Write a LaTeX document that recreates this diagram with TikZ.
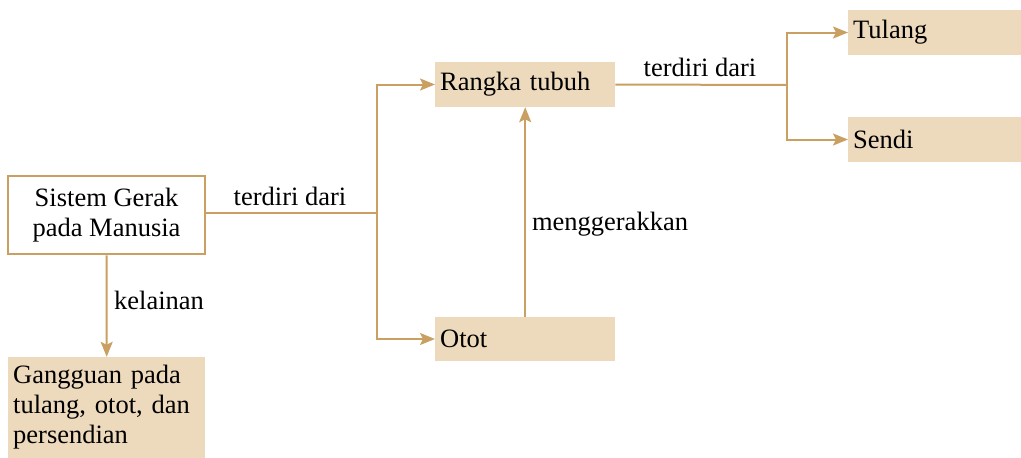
\documentclass[tikz,border=0pt]{standalone}
\usepackage{fontspec}
\setmainfont{Liberation Serif}
\usetikzlibrary{arrows.meta}
\definecolor{tan}{HTML}{C9A061}
\definecolor{sand}{HTML}{EDD9BC}
\tikzset{
  every node/.style={font=\fontsize{26.5}{30}\selectfont, text=black},
  outlinebox/.style={draw=tan, line width=2.5pt, fill=white, align=center, minimum width=197pt, minimum height=78pt, inner sep=0pt},
  sandbox/.style={fill=sand, align=left, inner sep=5pt, anchor=west},
  link/.style={draw=tan, line width=2pt},
  arrowlink/.style={link, -{Stealth[length=15pt, width=12pt, inset=3pt]}},
  lbl/.style={inner sep=0pt}
}
\begin{document}
\begin{tikzpicture}[x=1pt, y=-1pt]
\useasboundingbox (0,0) rectangle (1021,458);

% boxes
\node[outlinebox] (sis) at (106.5,215) {Sistem Gerak\\pada Manusia};
\node[sandbox, text width=187pt, minimum height=101pt] (gang) at (8,407.5) {Gangguan pada\\tulang, otot, dan\\persendian};
\node[sandbox, text width=170pt, minimum height=45pt] (rangka) at (435,84.5) {Rangka tubuh};
\node[sandbox, text width=170pt, minimum height=44pt] (otot) at (435,339) {Otot};
\node[sandbox, text width=163pt, minimum height=45pt] (tulang) at (848,32.5) {Tulang};
\node[sandbox, text width=163pt, minimum height=45pt] (sendi) at (848,139.5) {Sendi};

% junctions
\coordinate (j1) at (377,213);
\coordinate (j2) at (787,85);

% connectors
\draw[link] (sis.east |- j1) -- (j1);
\draw[arrowlink] (j1) |- (rangka.west);
\draw[arrowlink] (j1) |- (otot.west);
\draw[link] (rangka.east) -- (j2);
\draw[arrowlink] (j2) |- (tulang.west);
\draw[arrowlink] (j2) |- (sendi.west);
\draw[arrowlink] (otot.north) -- (rangka.south);
\draw[arrowlink] (sis.south) -- (gang.north);

% labels
\node[lbl] (l1) at (290,196) {terdiri dari};
\node[lbl] (l2) at (700,67) {terdiri dari};
\node[lbl] (l3) at (610,224) {menggerakkan};
\node[lbl] (l4) at (159,300) {kelainan};
\end{tikzpicture}
\end{document}
